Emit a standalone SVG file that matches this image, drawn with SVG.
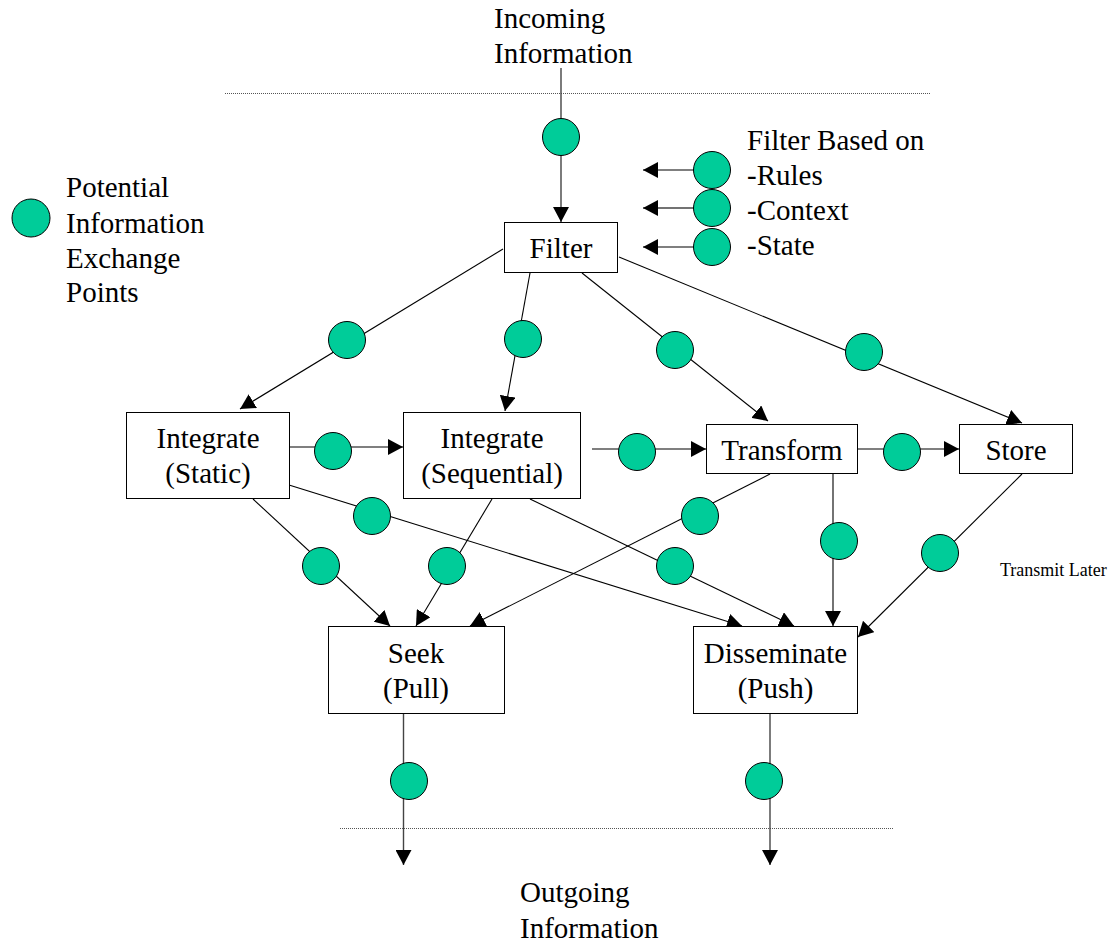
<svg xmlns="http://www.w3.org/2000/svg" width="1115" height="943" viewBox="0 0 1115 943">
<style>
  .dgmid{text-anchor:middle}
  .dgbox{fill:#fff;stroke:#000;stroke-width:1}
  .dgln{stroke:#000;stroke-width:1.1;fill:none}
  .dggl{stroke:#444;stroke-width:1.4;fill:none}
  .dgdot{stroke:#555;stroke-width:1;stroke-dasharray:1 1;fill:none}
  .dgpt{fill:#00CC99;stroke:#000;stroke-width:1}
</style>
<defs>
  <marker id="ah" markerUnits="userSpaceOnUse" markerWidth="16" markerHeight="16" refX="15" refY="8" orient="auto">
    <path d="M0,0 L15,8 L0,16 Z" fill="#000"/>
  </marker>
</defs>
<rect width="1115" height="943" fill="#fff"/>

<line class="dgdot" x1="225" y1="93.5" x2="931" y2="93.5"/>
<line class="dgdot" x1="340" y1="828.5" x2="894" y2="828.5"/>

<g font-family="'Liberation Serif', 'Times New Roman', serif" font-size="29" fill="#000">
<g id="incoming-label">
  <text x="494" y="28">Incoming</text>
  <text x="494" y="63">Information</text>
</g>
<g id="outgoing-label">
  <text x="520" y="902">Outgoing</text>
  <text x="520" y="938">Information</text>
</g>
<g id="legend">
  <circle class="dgpt" cx="31" cy="218" r="19"/>
  <text x="66" y="197">Potential</text>
  <text x="66" y="233">Information</text>
  <text x="66" y="268">Exchange</text>
  <text x="66" y="302">Points</text>
</g>
<g id="filter-criteria">
  <text x="747" y="150">Filter Based on</text>
  <text x="747" y="185">-Rules</text>
  <text x="747" y="220">-Context</text>
  <text x="747" y="255">-State</text>
</g>
<text id="transmit-later" x="1000" y="576" font-size="18">Transmit Later</text>
</g>

<g id="connectors">
  <line class="dggl" x1="561" y1="68" x2="561" y2="222" marker-end="url(#ah)"/>
  <line class="dgln" x1="694" y1="170" x2="643" y2="170" marker-end="url(#ah)"/>
  <line class="dggl" x1="694" y1="208" x2="643" y2="208" marker-end="url(#ah)"/>
  <line class="dgln" x1="694" y1="247" x2="643" y2="247" marker-end="url(#ah)"/>
  <line class="dgln" x1="503" y1="249" x2="240" y2="409" marker-end="url(#ah)"/>
  <line class="dgln" x1="530" y1="273" x2="505" y2="411" marker-end="url(#ah)"/>
  <line class="dgln" x1="582" y1="273" x2="768" y2="421" marker-end="url(#ah)"/>
  <line class="dgln" x1="619" y1="257" x2="1022" y2="423" marker-end="url(#ah)"/>
  <line class="dgln" x1="290" y1="447" x2="403" y2="447" marker-end="url(#ah)"/>
  <line class="dgln" x1="592" y1="449" x2="706" y2="449" marker-end="url(#ah)"/>
  <line class="dgln" x1="858" y1="449" x2="959" y2="449" marker-end="url(#ah)"/>
  <line class="dgln" x1="253" y1="499" x2="390" y2="626" marker-end="url(#ah)"/>
  <line class="dgln" x1="289" y1="485" x2="742" y2="626" marker-end="url(#ah)"/>
  <line class="dgln" x1="492" y1="499" x2="416" y2="626" marker-end="url(#ah)"/>
  <line class="dgln" x1="530" y1="499" x2="794" y2="626" marker-end="url(#ah)"/>
  <line class="dgln" x1="770" y1="474" x2="470" y2="626" marker-end="url(#ah)"/>
  <line class="dgln" x1="833" y1="474" x2="833" y2="626" marker-end="url(#ah)"/>
  <line class="dgln" x1="1022" y1="474" x2="858" y2="637" marker-end="url(#ah)"/>
  <line class="dggl" x1="403.5" y1="714" x2="403.5" y2="865" marker-end="url(#ah)"/>
  <line class="dggl" x1="770" y1="714" x2="770" y2="865" marker-end="url(#ah)"/>
</g>

<g id="exchange-points">
  <circle class="dgpt" cx="561" cy="137" r="18.5"/>
  <circle class="dgpt" cx="712" cy="170" r="18.5"/>
  <circle class="dgpt" cx="712" cy="208" r="18.5"/>
  <circle class="dgpt" cx="712" cy="247" r="18.5"/>
  <circle class="dgpt" cx="347" cy="340" r="18.5"/>
  <circle class="dgpt" cx="523" cy="339" r="18.5"/>
  <circle class="dgpt" cx="675" cy="350" r="18.5"/>
  <circle class="dgpt" cx="864" cy="352" r="18.5"/>
  <circle class="dgpt" cx="333" cy="451" r="18.5"/>
  <circle class="dgpt" cx="637" cy="452" r="18.5"/>
  <circle class="dgpt" cx="902" cy="452" r="18.5"/>
  <circle class="dgpt" cx="372" cy="516" r="18.5"/>
  <circle class="dgpt" cx="700" cy="516" r="18.5"/>
  <circle class="dgpt" cx="839" cy="541" r="18.5"/>
  <circle class="dgpt" cx="940" cy="553" r="18.5"/>
  <circle class="dgpt" cx="321" cy="566" r="18.5"/>
  <circle class="dgpt" cx="447" cy="566" r="18.5"/>
  <circle class="dgpt" cx="675" cy="566" r="18.5"/>
  <circle class="dgpt" cx="409" cy="781" r="18.5"/>
  <circle class="dgpt" cx="764" cy="781" r="18.5"/>
</g>

<g font-family="'Liberation Serif', 'Times New Roman', serif" font-size="29" fill="#000">
<g id="filter">
  <rect class="dgbox" x="504.5" y="222.5" width="113" height="50"/>
  <text class="dgmid" x="561" y="258">Filter</text>
</g>
<g id="integrate-static">
  <rect class="dgbox" x="126.5" y="412.5" width="163" height="86"/>
  <text class="dgmid" x="208" y="448">Integrate</text>
  <text class="dgmid" x="208" y="483">(Static)</text>
</g>
<g id="integrate-sequential">
  <rect class="dgbox" x="403.5" y="412.5" width="177" height="86"/>
  <text class="dgmid" x="492" y="448">Integrate</text>
  <text class="dgmid" x="492" y="483">(Sequential)</text>
</g>
<g id="transform">
  <rect class="dgbox" x="706.5" y="424.5" width="151" height="49"/>
  <text class="dgmid" x="782" y="460">Transform</text>
</g>
<g id="store">
  <rect class="dgbox" x="959.5" y="424.5" width="113" height="49"/>
  <text class="dgmid" x="1016" y="460">Store</text>
</g>
<g id="seek">
  <rect class="dgbox" x="328.5" y="626.5" width="176" height="87"/>
  <text class="dgmid" x="416" y="663">Seek</text>
  <text class="dgmid" x="416" y="698">(Pull)</text>
</g>
<g id="disseminate">
  <rect class="dgbox" x="693.5" y="626.5" width="164" height="87"/>
  <text class="dgmid" x="775.5" y="663">Disseminate</text>
  <text class="dgmid" x="775.5" y="698">(Push)</text>
</g>
</g>
</svg>
